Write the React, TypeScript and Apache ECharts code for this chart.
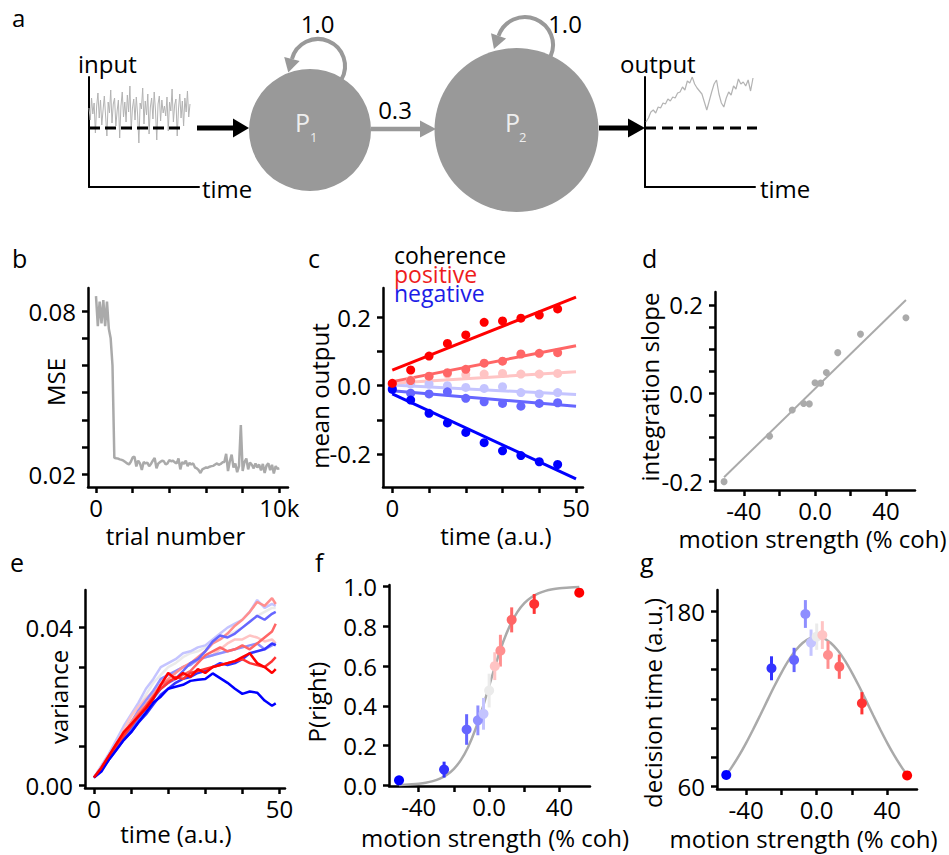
import React, { useEffect, useRef } from "react";
import * as echarts from "echarts";

const FONT = "'Open Sans', 'Noto Sans', 'DejaVu Sans', sans-serif";
const NODE_GRAY = "#999999";
const TRACE_GRAY = "#aaaaaa";

// ---------- coherence colour map (shared by c, e, f, g)
const coherences = [-51.2, -25.6, -12.8, -6.4, -3.2, 0, 3.2, 6.4, 12.8, 25.6, 51.2];
const cohColors = ["#0000ff", "#3333ff", "#6666ff", "#8f8fff", "#c4c4ff", "#ebebeb", "#ffc4c4", "#ff8f8f", "#ff6666", "#ff3333", "#ff0000"];

// ---------- panel a (schematic traces)
const inputTrace = [20, 8, 30, 14, 25, -5, 22, 35, 10, 28, 3, 18, 32, 12, -8, 26, 15, 38, 5, 24, 30, 2, 17, 28, -10, 22, 36, 11, 26, 6, 33, 16, 42, -2, 20, 29, 8, 31, 14, -15, 25, 19, 40, 4, 27, 13, 34, -6, 21, 30, 9, 36, 18, -12, 24, 32, 7, 28, 15, 22, 12, 31, -3, 26, 17, 39, 6, 23, 29, -8, 19, 34, 10, 27, 2, 30, 16, 37, 11, 24];
const outputTrace = [6, 10, 16, 18, 15, 21, 20, 25, 24, 29, 27, 31, 30, 35, 36, 41, 38, 47, 45, 51, 44, 40, 37, 34, 26, 18, 27, 36, 44, 48, 34, 25, 21, 30, 36, 33, 42, 39, 49, 44, 46, 42, 48, 37, 50];
const inputSpan = [0, 101];
const outputSpan = [1, 108];
const inputBaseline = [0, 96];
const outputBaseline = [0, 112];

// ---------- panel b
const mseTrialStep = 100;
const mseValues = [
  0.0855, 0.0745, 0.0835, 0.0755, 0.084, 0.0745, 0.0835, 0.0735, 0.07, 0.06,
  0.0261, 0.0259, 0.0258, 0.0255, 0.0253, 0.025, 0.0245, 0.024, 0.0236, 0.0246,
  0.0262, 0.0265, 0.0229, 0.025, 0.024, 0.0216, 0.0245, 0.024, 0.0243, 0.023,
  0.0238, 0.025, 0.026, 0.0222, 0.024, 0.0245, 0.025, 0.0248, 0.0236, 0.024,
  0.0252, 0.0248, 0.025, 0.0244, 0.024, 0.0258, 0.0218, 0.0245, 0.0238, 0.025,
  0.023, 0.0242, 0.0236, 0.024, 0.0225, 0.0222, 0.0215, 0.0205, 0.0218, 0.0222,
  0.0225, 0.0224, 0.0228, 0.023, 0.0231, 0.0236, 0.024, 0.0235, 0.0238, 0.0244,
  0.0245, 0.0275, 0.0212, 0.0248, 0.0272, 0.0225, 0.024, 0.0208, 0.023, 0.0381,
  0.0212, 0.0245, 0.0258, 0.0218, 0.0243, 0.0235, 0.0222, 0.024, 0.0225, 0.0236,
  0.0214, 0.0238, 0.0205, 0.0232, 0.024, 0.0215, 0.0235, 0.0203, 0.023, 0.022, 0.0222
];
const bYTicks = [0.02, 0.03, 0.04, 0.05, 0.06, 0.07, 0.08];
const bYLabels = [0.02, 0.08];
const bXTicks = [0, 2000, 4000, 6000, 8000, 10000];
const bXLabels = [0, 10000];

// ---------- panel c
const cTimes = [0, 5, 10, 15, 20, 25, 30, 35, 40, 45];
const cRedStrong = [0.007, 0.046, 0.087, 0.124, 0.149, 0.186, 0.19, 0.198, 0.207, 0.225];
const cRedMid = [0.005, 0.015, 0.028, 0.038, 0.048, 0.066, 0.072, 0.093, 0.095, 0.097];
const cRedLight = [0.005, 0.017, 0.026, 0.034, 0.032, 0.034, 0.036, 0.034, 0.034, 0.036];
const cBlueLight = [-0.001, 0.005, 0.005, 0.0, -0.005, -0.008, -0.003, -0.02, -0.024, -0.02];
const cBlueMid = [-0.008, -0.022, -0.024, -0.018, -0.037, -0.047, -0.052, -0.06, -0.052, -0.05];
const cBlueStrong = [-0.011, -0.042, -0.081, -0.109, -0.137, -0.167, -0.191, -0.205, -0.223, -0.231];
const cFitX = [0, 50];
const cFitRedStrong = [0.046, 0.26];
const cFitRedMid = [0.012, 0.117];
const cFitRedLight = [0.007, 0.041];
const cFitBlueLight = [0.002, -0.026];
const cFitBlueMid = [-0.015, -0.06];
const cFitBlueStrong = [-0.024, -0.273];
const cYTicks = [-0.2, -0.1, 0, 0.1, 0.2];
const cYLabels = [-0.2, 0, 0.2];
const cXTicks = [0, 10, 20, 30, 40, 50];
const cXLabels = [0, 50];

// ---------- panel d
const dSlopes = [-0.2, -0.097, -0.038, -0.023, -0.024, 0.024, 0.023, 0.047, 0.092, 0.134, 0.171];
const dFitX = [-51.2, 51.2];
const dFitY = [-0.19, 0.211];
const dYTicks = [-0.2, -0.15, -0.1, -0.05, 0, 0.05, 0.1, 0.15, 0.2];
const dYLabels = [-0.2, 0, 0.2];
const cohXTicks = [-40, -20, 0, 20, 40];
const cohXLabels = [-40, 0, 40];

// ---------- panel e
const eTimes = [0, 2, 4, 6, 8, 10, 12, 14, 16, 18, 20, 22, 24, 26, 28, 30, 32, 34, 36, 38, 40, 42, 44, 46, 48, 49];
const eNeg512 = [0.002, 0.0035, 0.0065, 0.009, 0.0115, 0.0135, 0.016, 0.0185, 0.021, 0.0225, 0.0245, 0.025, 0.0255, 0.0265, 0.0268, 0.027, 0.0284, 0.0272, 0.026, 0.0245, 0.0232, 0.0238, 0.0235, 0.0215, 0.0202, 0.0208];
const eNeg256 = [0.002, 0.004, 0.0065, 0.009, 0.0115, 0.0135, 0.016, 0.018, 0.0205, 0.023, 0.0245, 0.026, 0.027, 0.0275, 0.0285, 0.029, 0.03, 0.031, 0.0305, 0.031, 0.032, 0.0335, 0.034, 0.0345, 0.036, 0.0355];
const eNeg128 = [0.002, 0.004, 0.007, 0.0095, 0.012, 0.0145, 0.017, 0.0195, 0.022, 0.0245, 0.026, 0.027, 0.029, 0.031, 0.032, 0.034, 0.0365, 0.038, 0.0375, 0.0385, 0.04, 0.0415, 0.043, 0.042, 0.0435, 0.044];
const eNeg64 = [0.002, 0.0045, 0.0075, 0.01, 0.013, 0.016, 0.019, 0.0215, 0.024, 0.027, 0.028, 0.029, 0.03, 0.0305, 0.032, 0.0325, 0.033, 0.0335, 0.034, 0.0345, 0.035, 0.0355, 0.036, 0.0345, 0.0355, 0.036];
const eNeg32 = [0.002, 0.005, 0.008, 0.0115, 0.015, 0.018, 0.021, 0.0245, 0.027, 0.03, 0.031, 0.032, 0.0335, 0.034, 0.035, 0.0355, 0.037, 0.0385, 0.04, 0.041, 0.042, 0.044, 0.047, 0.045, 0.046, 0.0455];
const eZero = [0.002, 0.005, 0.008, 0.011, 0.0145, 0.0175, 0.02, 0.023, 0.026, 0.028, 0.03, 0.031, 0.0325, 0.0335, 0.034, 0.035, 0.036, 0.037, 0.038, 0.039, 0.04, 0.0415, 0.043, 0.044, 0.045, 0.045];
const ePos32 = [0.002, 0.0045, 0.0075, 0.0105, 0.014, 0.0175, 0.02, 0.022, 0.024, 0.0265, 0.028, 0.029, 0.03, 0.031, 0.0315, 0.0325, 0.033, 0.0345, 0.036, 0.037, 0.037, 0.038, 0.0375, 0.0365, 0.037, 0.036];
const ePos64 = [0.002, 0.0045, 0.0075, 0.01, 0.013, 0.016, 0.0185, 0.0205, 0.023, 0.0255, 0.027, 0.0285, 0.03, 0.031, 0.0325, 0.034, 0.036, 0.037, 0.0385, 0.0405, 0.042, 0.044, 0.0465, 0.0455, 0.0475, 0.046];
const ePos128 = [0.002, 0.0045, 0.0075, 0.0105, 0.013, 0.0155, 0.018, 0.02, 0.0225, 0.0255, 0.0265, 0.027, 0.028, 0.029, 0.031, 0.033, 0.034, 0.035, 0.034, 0.0345, 0.0355, 0.0345, 0.036, 0.0375, 0.039, 0.041];
const ePos256 = [0.002, 0.004, 0.007, 0.0095, 0.0125, 0.015, 0.0175, 0.02, 0.0225, 0.0245, 0.026, 0.0275, 0.027, 0.0285, 0.029, 0.0295, 0.03, 0.0305, 0.031, 0.0315, 0.032, 0.031, 0.0305, 0.03, 0.0315, 0.0325];
const ePos512 = [0.002, 0.0045, 0.0075, 0.0105, 0.0135, 0.0155, 0.0175, 0.0195, 0.022, 0.0255, 0.0285, 0.027, 0.0285, 0.0275, 0.0295, 0.0285, 0.03, 0.0305, 0.031, 0.0315, 0.0325, 0.0335, 0.031, 0.03, 0.0285, 0.0295];
const eYTicks = [0, 0.01, 0.02, 0.03, 0.04];
const eYLabels = [0, 0.04];
const eXTicks = [0, 10, 20, 30, 40, 50];
const eXLabels = [0, 50];

// ---------- panel f
const fPRight = [0.025, 0.079, 0.281, 0.327, 0.36, 0.477, 0.6, 0.678, 0.833, 0.913, 0.97];
const fErr = [0.012, 0.04, 0.077, 0.075, 0.08, 0.085, 0.07, 0.08, 0.063, 0.05, 0.02];
const fitCurveX = [-51.2, -48, -44, -40, -36, -32, -28, -24, -20, -16, -12, -8, -4, 0, 4, 8, 12, 16, 20, 24, 28, 32, 36, 40, 44, 48, 51.2];
const fCurveY = [0.0021, 0.0031, 0.0051, 0.0082, 0.0131, 0.0211, 0.0336, 0.0532, 0.0832, 0.128, 0.192, 0.277, 0.382, 0.5, 0.618, 0.723, 0.808, 0.872, 0.917, 0.947, 0.966, 0.979, 0.987, 0.992, 0.995, 0.997, 0.998];
const fYTicks = [0, 0.2, 0.4, 0.6, 0.8, 1.0];

// ---------- panel g
const gTime = [68, 140.9, 146.6, 178, 158.4, 162.5, 163.6, 150, 142, 117, 67.7];
const gErr = [2, 8.2, 8.3, 9.5, 9, 9, 9.5, 9.5, 8.3, 7.6, 2];
const gCurveY = [68, 73.5, 81.2, 89.8, 99.1, 108.8, 118.8, 128.6, 137.8, 146.1, 153, 158.2, 161.4, 162.5, 161.4, 158.2, 153, 146.1, 137.8, 128.6, 118.8, 108.8, 99.1, 89.8, 81.2, 73.5, 68];
const gYTicks = [60, 80, 100, 120, 140, 160, 180];
const gYLabels = [60, 180];

// ================= helpers
const zip = (xs: number[], ys: number[]) => xs.map((x, i) => [x, ys[i]]);

function axis(gridIndex: number, min: number, max: number, ticks: number[], labels: number[], fmt: (v: number) => string) {
  return {
    type: "value",
    gridIndex,
    min,
    max,
    axisLine: { show: true, onZero: false, lineStyle: { color: "#000", width: 2.5 } },
    axisTick: { show: true, inside: false, length: 6, customValues: ticks, lineStyle: { color: "#000", width: 2.5 } },
    axisLabel: { show: true, customValues: labels, formatter: fmt, color: "#000", fontSize: 24, fontFamily: FONT, margin: 8 },
    splitLine: { show: false },
  };
}
function yaxis(gridIndex: number, min: number, max: number, ticks: number[], labels: number[], fmt: (v: number) => string) {
  const a: any = axis(gridIndex, min, max, ticks, labels, fmt);
  a.axisLabel.margin = 12;
  return a;
}
function bareAxis(gridIndex: number, min: number, max: number) {
  return {
    type: "value",
    gridIndex,
    min,
    max,
    axisLine: { show: true, onZero: false, lineStyle: { color: "#000", width: 2 } },
    axisTick: { show: false },
    axisLabel: { show: false },
    splitLine: { show: false },
  };
}
const cohFmt = (v: number) => (v === 0 ? "0.0" : String(v));

function lineSeries(ax: number, data: number[][], color: string, width: number, extra: any = {}) {
  return {
    type: "line",
    xAxisIndex: ax,
    yAxisIndex: ax,
    data,
    symbol: "none",
    showSymbol: false,
    silent: true,
    lineStyle: { color, width },
    z: 2,
    ...extra,
  };
}
function scatterSeries(ax: number, xs: number[], ys: number[], colors: string[] | string, size: number) {
  return {
    type: "scatter",
    xAxisIndex: ax,
    yAxisIndex: ax,
    symbolSize: size,
    silent: true,
    z: 4,
    data: xs.map((x, i) => ({
      value: [x, ys[i]],
      itemStyle: { color: Array.isArray(colors) ? colors[i] : colors, opacity: 1 },
    })),
  };
}
function errorBars(ax: number, xs: number[], ys: number[], errs: number[], colors: string[]) {
  return {
    type: "custom",
    xAxisIndex: ax,
    yAxisIndex: ax,
    silent: true,
    z: 3,
    data: xs.map((x, i) => [x, ys[i] - errs[i], ys[i] + errs[i], i]),
    encode: { x: 0, y: [1, 2] },
    renderItem: (_p: any, api: any) => {
      const lo = api.coord([api.value(0), api.value(1)]);
      const hi = api.coord([api.value(0), api.value(2)]);
      const idx = api.value(3);
      return {
        type: "line",
        shape: { x1: lo[0], y1: lo[1], x2: hi[0], y2: hi[1] },
        style: { stroke: colors[idx], lineWidth: 3 },
      };
    },
  };
}
function txt(text: string, x: number, y: number, o: any = {}) {
  const size = o.size || 24;
  const align = o.align || "left";
  return {
    type: "text",
    x,
    y,
    rotation: o.rotation || 0,
    silent: true,
    z: 20,
    style: {
      text,
      fill: o.color || "#000",
      fontSize: size,
      fontFamily: FONT,
      align,
      textAlign: align,
      verticalAlign: "middle",
      textVerticalAlign: "middle",
    },
  };
}
function loop(cx: number, cy: number, r: number, a0deg: number, a1deg: number) {
  const a0 = (a0deg * Math.PI) / 180;
  const a1 = (a1deg * Math.PI) / 180;
  const px = cx + r * Math.cos(a1);
  const py = cy + r * Math.sin(a1);
  const dx = Math.sin(a1);
  const dy = -Math.cos(a1);
  const nx = Math.cos(a1);
  const ny = Math.sin(a1);
  return [
    {
      type: "arc",
      silent: true,
      z: 5,
      shape: { cx, cy, r, startAngle: a0, endAngle: a1, clockwise: false },
      style: { stroke: NODE_GRAY, lineWidth: 4, fill: null },
    },
    {
      type: "polygon",
      silent: true,
      z: 5,
      shape: { points: [[px + 8 * nx, py + 8 * ny], [px - 8 * nx, py - 8 * ny], [px + 14 * dx, py + 14 * dy]] },
      style: { fill: NODE_GRAY },
    },
  ];
}
function arrow(x1: number, x2: number, y: number, color: string, w: number, headLen: number, headHalf: number) {
  return [
    { type: "line", silent: true, z: 5, shape: { x1, y1: y, x2: x2 - headLen + 1, y2: y }, style: { stroke: color, lineWidth: w } },
    {
      type: "polygon",
      silent: true,
      z: 5,
      shape: { points: [[x2 - headLen, y - headHalf], [x2, y], [x2 - headLen, y + headHalf]] },
      style: { fill: color },
    },
  ];
}

export default function App() {
  const ref = useRef<HTMLDivElement>(null);
  useEffect(() => {
    if (!ref.current) return;
    const chart = echarts.init(ref.current, undefined, { renderer: "svg" });

    const grids = [
      { left: 89, top: 77, width: 110, height: 110 }, // a input
      { left: 645, top: 77, width: 110, height: 110 }, // a output
      { left: 88, top: 288, width: 200, height: 199 }, // b
      { left: 383, top: 288, width: 200, height: 199 }, // c
      { left: 715, top: 292, width: 200, height: 198 }, // d
      { left: 85, top: 590, width: 200, height: 198 }, // e
      { left: 389, top: 585, width: 201, height: 201 }, // f
      { left: 717, top: 590, width: 200, height: 199 }, // g
    ].map((g) => ({ ...g, containLabel: false }));

    const xAxis = [
      bareAxis(0, 0, 110),
      bareAxis(1, 0, 110),
      axis(2, -436, 10473, bXTicks, bXLabels, (v) => (v === 0 ? "0" : v / 1000 + "k")),
      axis(3, -2.53, 51.9, cXTicks, cXLabels, (v) => String(v)),
      axis(4, -56.3, 56.3, cohXTicks, cohXLabels, cohFmt),
      axis(5, -2.43, 51.5, eXTicks, eXLabels, (v) => String(v)),
      axis(6, -56.9, 57.3, cohXTicks, cohXLabels, cohFmt),
      axis(7, -56.45, 56.8, cohXTicks, cohXLabels, cohFmt),
    ];
    const yAxis = [
      bareAxis(0, -59, 51),
      bareAxis(1, -59, 51),
      yaxis(2, 0.01533, 0.08849, bYTicks, bYLabels, (v) => v.toFixed(2)),
      yaxis(3, -0.297, 0.2865, cYTicks, cYLabels, (v) => v.toFixed(1)),
      yaxis(4, -0.2189, 0.2293, dYTicks, dYLabels, (v) => v.toFixed(1)),
      yaxis(5, -0.00066, 0.04954, eYTicks, eYLabels, (v) => v.toFixed(2)),
      yaxis(6, -0.0035, 1.0086, fYTicks, fYTicks, (v) => v.toFixed(1)),
      yaxis(7, 58.4, 194.4, gYTicks, gYLabels, (v) => String(v)),
    ];

    const inStep = (inputSpan[1] - inputSpan[0]) / (inputTrace.length - 1);
    const outStep = (outputSpan[1] - outputSpan[0]) / (outputTrace.length - 1);

    const series: any[] = [
      // a
      lineSeries(0, inputTrace.map((v, i) => [inputSpan[0] + i * inStep, v]), "#b3b3b3", 1),
      lineSeries(0, inputBaseline.map((x) => [x, 0]), "#000", 3, { lineStyle: { color: "#000", width: 3, type: [11, 5] }, z: 3 }),
      lineSeries(1, outputTrace.map((v, i) => [outputSpan[0] + i * outStep, v]), "#b3b3b3", 1.2),
      lineSeries(1, outputBaseline.map((x) => [x, 0]), "#000", 3, { lineStyle: { color: "#000", width: 3, type: [11, 6] }, z: 3 }),
      // b
      lineSeries(2, mseValues.map((v, i) => [i * mseTrialStep, v]), TRACE_GRAY, 2.5),
      // c fits
      lineSeries(3, zip(cFitX, cFitBlueLight), cohColors[4], 3),
      lineSeries(3, zip(cFitX, cFitRedLight), cohColors[6], 3),
      lineSeries(3, zip(cFitX, cFitBlueMid), cohColors[2], 3),
      lineSeries(3, zip(cFitX, cFitRedMid), cohColors[8], 3),
      lineSeries(3, zip(cFitX, cFitBlueStrong), cohColors[0], 3),
      lineSeries(3, zip(cFitX, cFitRedStrong), cohColors[10], 3),
      // c points
      scatterSeries(3, cTimes, cBlueLight, cohColors[4], 9),
      scatterSeries(3, cTimes, cRedLight, cohColors[6], 9),
      scatterSeries(3, cTimes, cBlueMid, cohColors[2], 9),
      scatterSeries(3, cTimes, cRedMid, cohColors[8], 9),
      scatterSeries(3, cTimes, cBlueStrong, cohColors[0], 9),
      scatterSeries(3, cTimes, cRedStrong, cohColors[10], 9),
      // d
      lineSeries(4, zip(dFitX, dFitY), TRACE_GRAY, 2),
      scatterSeries(4, coherences, dSlopes, TRACE_GRAY, 7),
      // e
      lineSeries(5, zip(eTimes, eZero), cohColors[5], 2.5),
      lineSeries(5, zip(eTimes, eNeg32), cohColors[4], 2.5),
      lineSeries(5, zip(eTimes, ePos32), cohColors[6], 2.5),
      lineSeries(5, zip(eTimes, eNeg64), cohColors[3], 2.5),
      lineSeries(5, zip(eTimes, ePos64), cohColors[7], 2.5),
      lineSeries(5, zip(eTimes, eNeg128), cohColors[2], 2.5),
      lineSeries(5, zip(eTimes, ePos128), cohColors[8], 2.5),
      lineSeries(5, zip(eTimes, eNeg256), cohColors[1], 2.5),
      lineSeries(5, zip(eTimes, ePos256), cohColors[9], 2.5),
      lineSeries(5, zip(eTimes, eNeg512), cohColors[0], 2.5),
      lineSeries(5, zip(eTimes, ePos512), cohColors[10], 2.5),
      // f
      lineSeries(6, zip(fitCurveX, fCurveY), TRACE_GRAY, 2.5, { smooth: 0.3 }),
      errorBars(6, coherences, fPRight, fErr, cohColors),
      scatterSeries(6, coherences, fPRight, cohColors, 10),
      // g
      lineSeries(7, zip(fitCurveX, gCurveY), TRACE_GRAY, 2.5, { smooth: 0.3 }),
      errorBars(7, coherences, gTime, gErr, cohColors),
      scatterSeries(7, coherences, gTime, cohColors, 10),
    ];

    const R = Math.PI / 2;
    const graphic: any[] = [
      // panel a diagram
      ...loop(318, 66, 27, 30, 195),
      ...loop(525, 45, 28, 25, 199),
      { type: "circle", silent: true, z: 6, shape: { cx: 310, cy: 130, r: 61 }, style: { fill: NODE_GRAY } },
      { type: "circle", silent: true, z: 6, shape: { cx: 516.5, cy: 130, r: 82 }, style: { fill: NODE_GRAY } },
      ...arrow(197, 249, 128, "#000", 5, 16, 9.5),
      ...arrow(371, 436, 129, NODE_GRAY, 4.5, 16, 8.5),
      ...arrow(599, 645, 128, "#000", 5, 17, 9.5),
      txt("a", 12, 17, { size: 24 }),
      txt("input", 78, 63),
      txt("time", 202, 188),
      txt("1.0", 317.5, 23, { align: "center" }),
      txt("0.3", 395, 109, { align: "center" }),
      txt("1.0", 565, 23, { align: "center" }),
      txt("P", 295, 122, { size: 25, color: "#eeeeee" }),
      txt("1", 310, 137, { size: 13, color: "#eeeeee" }),
      txt("P", 505, 122, { size: 25, color: "#eeeeee" }),
      txt("2", 519, 137, { size: 13, color: "#eeeeee" }),
      txt("output", 620, 63),
      txt("time", 760, 188),
      // panel letters
      txt("b", 12, 258, { size: 25 }),
      txt("c", 308, 258, { size: 25 }),
      txt("d", 642, 258, { size: 25 }),
      txt("e", 10, 562, { size: 25 }),
      txt("f", 315, 562, { size: 25 }),
      txt("g", 640, 562, { size: 25 }),
      // c legend
      txt("coherence", 394, 255, { size: 23 }),
      txt("positive", 394, 274, { size: 23, color: "#ee1c1c" }),
      txt("negative", 394, 293, { size: 23, color: "#1c1ce6" }),
      // y-axis titles
      txt("MSE", 55, 382, { align: "center", rotation: R }),
      txt("mean output", 319, 396, { align: "center", rotation: R }),
      txt("integration slope", 649, 387, { align: "center", rotation: R }),
      txt("variance", 58, 697, { align: "center", rotation: R }),
      txt("P(right)", 316, 702, { align: "center", rotation: R }),
      txt("decision time (a.u.)", 652, 703, { align: "center", rotation: R }),
      // x-axis titles
      txt("trial number", 175.5, 535, { align: "center" }),
      txt("time (a.u.)", 496, 535, { align: "center" }),
      txt("motion strength (% coh)", 812.5, 538, { align: "center" }),
      txt("time (a.u.)", 176, 833, { align: "center" }),
      txt("motion strength (% coh)", 495, 837, { align: "center" }),
      txt("motion strength (% coh)", 803.5, 838, { align: "center" }),
    ];

    chart.setOption({
      animation: false,
      backgroundColor: "#ffffff",
      textStyle: { fontFamily: FONT },
      grid: grids,
      xAxis,
      yAxis,
      series,
      graphic,
    });
    return () => chart.dispose();
  }, []);

  return (
    <div
      ref={ref}
      style={{ position: "fixed", left: 0, top: 0, width: 949, height: 855, background: "#fff" }}
    />
  );
}
